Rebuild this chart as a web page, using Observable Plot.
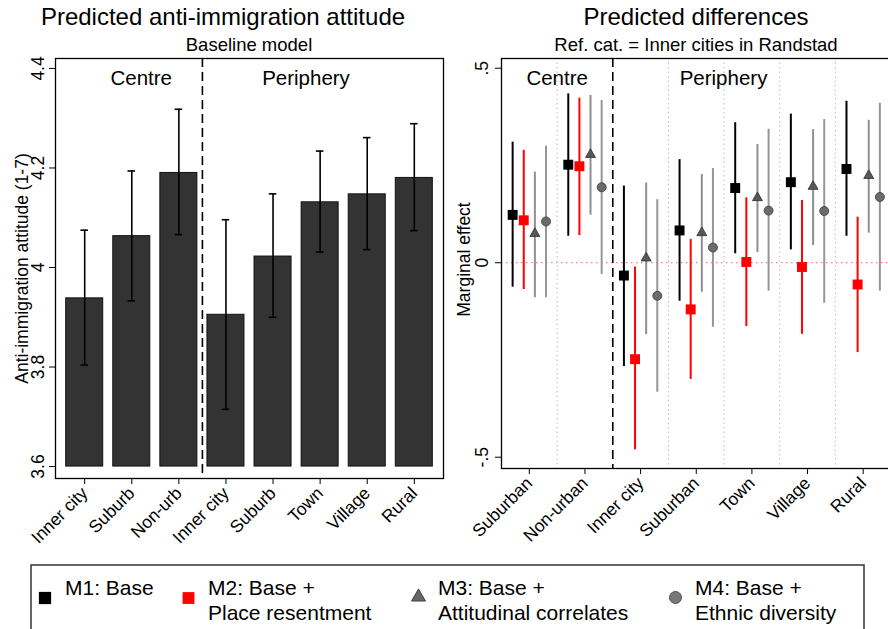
<!DOCTYPE html>
<html><head><meta charset="utf-8">
<script src="https://cdn.jsdelivr.net/npm/d3@7"></script>
<script src="https://cdn.jsdelivr.net/npm/@observablehq/plot@0.6"></script>
<style>
html,body{margin:0;padding:0;overflow:hidden;background:#fff;}
#root{position:relative;width:888px;height:629px;overflow:hidden;font-family:"Liberation Sans",Arial,sans-serif;background:#fff;}
#root > svg, #root > div{position:absolute;}
</style></head><body><div id="root"></div>
<script>
// ---------- Left panel data (baseline model) ----------
const leftCats = ["Inner city","Suburb","Non-urb","Inner city","Suburb","Town","Village","Rural"];
const leftMean = [3.938, 4.063, 4.190, 3.905, 4.022, 4.131, 4.147, 4.180];
const leftLow  = [3.804, 3.933, 4.066, 3.715, 3.900, 4.031, 4.036, 4.074];
const leftHigh = [4.075, 4.194, 4.318, 4.096, 4.148, 4.234, 4.261, 4.289];
const leftTicks = [3.6, 3.8, 4, 4.2, 4.4];
const leftTickLabels = ["3.6", "3.8", "4", "4.2", "4.4"];

// ---------- Right panel data (marginal effects) ----------
const rightCats = ["Suburban","Non-urban","Inner city","Suburban","Town","Village","Rural"];
const modelNames = ["M1: Base", "M2: Base +\nPlace resentment", "M3: Base +\nAttitudinal correlates", "M4: Base +\nEthnic diversity"];
const m1Est  = [0.123, 0.252, -0.033, 0.083, 0.192, 0.207, 0.241];
const m1Low  = [-0.063, 0.068, -0.267, -0.099, 0.023, 0.033, 0.068];
const m1High = [0.310, 0.434, 0.197, 0.265, 0.360, 0.382, 0.415];
const m2Est  = [0.109, 0.248, -0.248, -0.120, 0.002, -0.011, -0.056];
const m2Low  = [-0.069, 0.070, -0.481, -0.300, -0.164, -0.184, -0.231];
const m2High = [0.289, 0.423, -0.011, 0.060, 0.167, 0.160, 0.117];
const m3Est  = [0.075, 0.278, 0.012, 0.077, 0.167, 0.196, 0.224];
const m3Low  = [-0.090, 0.122, -0.185, -0.076, 0.026, 0.044, 0.076];
const m3High = [0.233, 0.430, 0.205, 0.227, 0.304, 0.342, 0.366];
const m4Est  = [0.106, 0.194, -0.085, 0.039, 0.134, 0.133, 0.169];
const m4Low  = [-0.090, -0.030, -0.333, -0.166, -0.073, -0.104, -0.073];
const m4High = [0.300, 0.417, 0.162, 0.242, 0.343, 0.368, 0.410];
const rightTicks = [-0.5, 0, 0.5];
const rightTickLabels = ["-.5", "0", ".5"];

const FONT = "Liberation Sans, Arial, sans-serif";
const root = document.getElementById("root");

// ---------- Left plot ----------
const leftRows = leftCats.map((c, i) => ({pos: i + 1, cat: c, mean: leftMean[i], low: leftLow[i], high: leftHigh[i]}));
const leftPlot = Plot.plot({
  width: 450, height: 560,
  marginLeft: 55, marginRight: 7, marginTop: 58, marginBottom: 82,
  style: {fontFamily: FONT, fontSize: "17px", color: "#000", background: "transparent", overflow: "visible"},
  x: {type: "linear", domain: [0.38, 8.62]},
  y: {domain: [3.576, 4.42]},
  marks: [
    Plot.rectY(leftRows, {x1: d => d.pos - 0.393, x2: d => d.pos + 0.393, y1: 3.6, y2: "mean", fill: "#333333", stroke: "#111", strokeWidth: 1}),
    Plot.ruleX(leftRows, {x: "pos", y1: "low", y2: "high", stroke: "#000", strokeWidth: 1.6}),
    Plot.ruleY(leftRows, {y: "low", x1: d => d.pos - 0.08, x2: d => d.pos + 0.08, stroke: "#000", strokeWidth: 1.6}),
    Plot.ruleY(leftRows, {y: "high", x1: d => d.pos - 0.08, x2: d => d.pos + 0.08, stroke: "#000", strokeWidth: 1.6}),
    Plot.ruleX([3.5], {stroke: "#000", strokeWidth: 1.6, strokeDasharray: "9,5"}),
    Plot.text(["Centre"], {x: 2.2, frameAnchor: "top", dy: 11.5, fontSize: 20.5}),
    Plot.text(["Periphery"], {x: 5.7, frameAnchor: "top", dy: 11.5, fontSize: 20.5}),
    Plot.axisY({ticks: leftTicks, tickSize: 6, tickFormat: () => "", label: null, stroke: "#000"}),
    Plot.text(leftTicks, {y: d => d, text: (d, i) => leftTickLabels[i], frameAnchor: "left", dx: -12, rotate: -90, textAnchor: "middle", lineAnchor: "bottom", fontSize: 17.5}),
    Plot.text(["Anti-immigration attitude (1-7)"], {frameAnchor: "left", dx: -28, rotate: -90, textAnchor: "middle", lineAnchor: "bottom", fontSize: 17.5}),
    Plot.axisX({ticks: d3.range(1, 9), tickFormat: i => leftCats[i - 1], tickRotate: -45, tickSize: 6, fontSize: 17.5, label: null, stroke: "#000"}),
    Plot.frame({stroke: "#000", strokeWidth: 1.3})
  ]
});
leftPlot.style.left = "0px"; leftPlot.style.top = "0px";
root.appendChild(leftPlot);

// ---------- Right plot ----------
const models = [
  {est: m1Est, low: m1Low, high: m1High, line: "#000000", fill: "#000000", stroke: "none", symbol: "square", r: 5.6, off: -0.3},
  {est: m2Est, low: m2Low, high: m2High, line: "#ff0000", fill: "#ff0000", stroke: "none", symbol: "square", r: 5.6, off: -0.1},
  {est: m3Est, low: m3Low, high: m3High, line: "#8f8f8f", fill: "#575757", stroke: "#3c3c3c", symbol: "triangle", r: 3.7, off: 0.1},
  {est: m4Est, low: m4Low, high: m4High, line: "#969696", fill: "#6b6b6b", stroke: "#444444", symbol: "circle", r: 4.5, off: 0.3}
];
const ciMarks = [], dotMarks = [];
models.forEach((m) => {
  const rows = rightCats.map((c, i) => ({x: i + 1 + m.off, est: m.est[i], low: m.low[i], high: m.high[i]}));
  ciMarks.push(Plot.ruleX(rows, {x: "x", y1: "low", y2: "high", stroke: m.line, strokeWidth: 2}));
  dotMarks.push(Plot.dot(rows, {x: "x", y: "est", symbol: m.symbol, r: m.r, fill: m.fill, stroke: m.stroke, strokeWidth: 0.9}));
});
const rightPlot = Plot.plot({
  width: 452, height: 560,
  marginLeft: 61, marginRight: 1.5, marginTop: 58, marginBottom: 92,
  style: {fontFamily: FONT, fontSize: "17px", color: "#000", background: "transparent", overflow: "visible"},
  x: {type: "linear", domain: [0.5, 7.5]},
  y: {domain: [-0.529, 0.525]},
  marks: [
    Plot.ruleX([1.5, 3.5, 4.5, 5.5, 6.5], {stroke: "#bdbdbd", strokeWidth: 1, strokeDasharray: "1.5,3"}),
    Plot.ruleY([0], {stroke: "#ff5a5a", strokeWidth: 1, strokeDasharray: "1.5,3.5"}),
    Plot.ruleX([2.5], {stroke: "#000", strokeWidth: 1.6, strokeDasharray: "9,5"}),
    ...ciMarks,
    ...dotMarks,
    Plot.text(["Centre"], {x: 1.5, frameAnchor: "top", dy: 11.5, fontSize: 20.5}),
    Plot.text(["Periphery"], {x: 4.49, frameAnchor: "top", dy: 11.5, fontSize: 20.5}),
    Plot.axisY({ticks: rightTicks, tickSize: 6, tickFormat: () => "", label: null, stroke: "#000"}),
    Plot.text(rightTicks, {y: d => d, text: (d, i) => rightTickLabels[i], frameAnchor: "left", dx: -14, rotate: -90, textAnchor: "middle", lineAnchor: "bottom", fontSize: 17.5}),
    Plot.text(["Marginal effect"], {frameAnchor: "left", dx: -32, dy: -4, rotate: -90, textAnchor: "middle", lineAnchor: "bottom", fontSize: 17.5}),
    Plot.axisX({ticks: d3.range(1, 8), tickFormat: i => rightCats[i - 1], tickRotate: -45, tickSize: 6, fontSize: 17.5, label: null, stroke: "#000"}),
    Plot.frame({stroke: "#000", strokeWidth: 1.3})
  ]
});
rightPlot.style.left = "440px"; rightPlot.style.top = "0px";
root.appendChild(rightPlot);

// ---------- Titles and legend (overlay) ----------
const svg = d3.select(root).append("svg")
  .attr("width", 888).attr("height", 629)
  .style("left", "0px").style("top", "0px").style("pointer-events", "none")
  .attr("font-family", FONT);
const titles = [
  {t: "Predicted anti-immigration attitude", x: 223, y: 25, s: 24},
  {t: "Baseline model", x: 249, y: 51, s: 18.5},
  {t: "Predicted differences", x: 696, y: 25, s: 24},
  {t: "Ref. cat. = Inner cities in Randstad", x: 696, y: 51, s: 18.5}
];
svg.selectAll("text.title").data(titles).join("text").attr("class", "title")
  .attr("x", d => d.x).attr("y", d => d.y).attr("text-anchor", "middle")
  .attr("font-size", d => d.s).attr("fill", "#000").text(d => d.t);

svg.append("rect").attr("x", 31).attr("y", 565).attr("width", 833).attr("height", 100)
  .attr("fill", "none").attr("stroke", "#333").attr("stroke-width", 1.5);
const legendItems = [
  {sym: "square", fill: "#000", stroke: "none", size: 150, cx: 45, cy: 598, tx: 65},
  {sym: "square", fill: "#ff0000", stroke: "none", size: 140, cx: 188.5, cy: 598, tx: 208},
  {sym: "triangle", fill: "#666", stroke: "#444", size: 85, cx: 418.5, cy: 597, tx: 438},
  {sym: "circle", fill: "#777", stroke: "#555", size: 115, cx: 675.5, cy: 597.5, tx: 695}
];
const symMap = {square: d3.symbolSquare, triangle: d3.symbolTriangle, circle: d3.symbolCircle};
legendItems.forEach((it, k) => {
  svg.append("path").attr("d", d3.symbol(symMap[it.sym], it.size)())
    .attr("transform", `translate(${it.cx},${it.cy})`)
    .attr("fill", it.fill).attr("stroke", it.stroke).attr("stroke-width", 1);
  const lines = modelNames[k].split("\n");
  const txt = svg.append("text").attr("x", it.tx).attr("y", 595).attr("font-size", 21).attr("fill", "#000");
  lines.forEach((ln, j) => txt.append("tspan").attr("x", it.tx).attr("dy", j === 0 ? 0 : 24.5).text(ln));
});
</script></body></html>
